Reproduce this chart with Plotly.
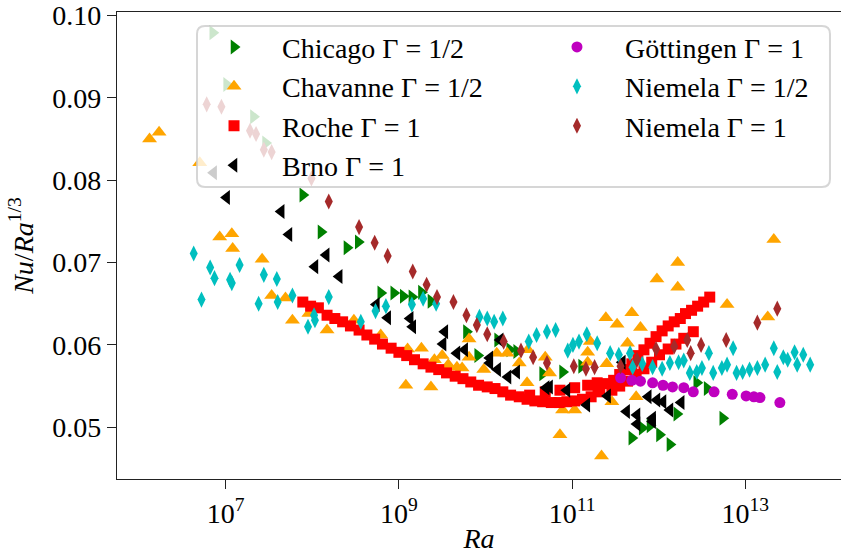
import numpy as np
import plotly.graph_objects as go

# ---- data: log10(Ra) and Nu/Ra^(1/3) ----
chicago_log_ra = [6.85, 7.01, 7.32, 7.46, 7.89, 8.10, 8.40, 8.53, 8.79, 8.94, 9.05, 9.15, 9.26, 9.37,
                  9.78, 9.91, 10.14, 10.28, 10.36, 10.66, 10.89, 11.11, 11.69, 11.81, 11.90, 12.01,
                  12.13, 12.21, 12.44, 12.56, 12.74]
chicago_nu = [0.0979, 0.0916, 0.0877, 0.0845, 0.0782, 0.0737, 0.0718, 0.0725, 0.0663, 0.0663, 0.0659,
              0.0658, 0.0664, 0.0653, 0.0616, 0.0587, 0.0606, 0.0594, 0.0592, 0.0565, 0.0567, 0.0574,
              0.0487, 0.0499, 0.0502, 0.0491, 0.0479, 0.0516, 0.0554, 0.0547, 0.0511]

chavanne_log_ra = [6.12, 6.23, 6.70, 6.93, 7.07, 7.08, 7.42, 7.53, 7.69, 7.77, 7.96, 8.17, 8.48, 8.79,
                   9.08, 9.10, 9.26, 9.37, 9.41, 9.50, 9.57, 9.67, 9.73, 9.81, 9.81, 9.98, 10.13, 10.25,
                   10.39, 10.48, 10.49, 10.69, 10.74, 10.86, 10.89, 11.03, 11.18, 11.18, 11.21, 11.34,
                   11.39, 11.40, 11.46, 11.52, 11.64, 11.69, 11.74, 11.79, 11.98, 12.22, 12.22, 12.79,
                   13.26, 13.33]
chavanne_nu = [0.0850, 0.0858, 0.0821, 0.0731, 0.0735, 0.0717, 0.0704, 0.0660, 0.0657, 0.0630, 0.0638,
               0.0618, 0.0630, 0.0612, 0.0551, 0.0595, 0.0596, 0.0549, 0.0582, 0.0587, 0.0576, 0.0573,
               0.0572, 0.0607, 0.0585, 0.0570, 0.0590, 0.0590, 0.0578, 0.0554, 0.0594, 0.0585, 0.0566,
               0.0491, 0.0521, 0.0521, 0.0591, 0.0579, 0.0604, 0.0465, 0.0633, 0.0577, 0.0531, 0.0625,
               0.0602, 0.0639, 0.0537, 0.0621, 0.0680, 0.0700, 0.0670, 0.0649, 0.0634, 0.0728]

roche_log_ra = [7.89, 7.98, 8.07, 8.17, 8.26, 8.35, 8.44, 8.54, 8.63, 8.72, 8.81, 8.91, 9.00, 9.09,
                9.18, 9.28, 9.37, 9.46, 9.55, 9.65, 9.74, 9.83, 9.92, 10.02, 10.11, 10.20, 10.29,
                10.39, 10.48, 10.57, 10.66, 10.76, 10.85, 10.94, 11.03, 11.12, 11.22, 11.30,
                10.51, 10.69, 10.86, 11.03, 11.18, 11.29,
                11.32, 11.40, 11.48, 11.55, 11.62, 11.69, 11.76, 11.83, 11.90, 11.97, 12.04, 12.11,
                12.18, 12.25, 12.31, 12.38, 12.45, 12.52, 12.59,
                11.46, 11.55, 11.64, 11.74, 11.83, 11.92, 12.01, 12.11, 12.20, 12.29, 12.40]
roche_nu = [0.0652, 0.0647, 0.0645, 0.0636, 0.0632, 0.0628, 0.0623, 0.0618, 0.0612, 0.0607, 0.0601,
            0.0596, 0.0591, 0.0587, 0.0582, 0.0577, 0.0573, 0.0570, 0.0566, 0.0562, 0.0559, 0.0555,
            0.0551, 0.0549, 0.0547, 0.0543, 0.0539, 0.0537, 0.0534, 0.0532, 0.0531, 0.0530, 0.0530,
            0.0531, 0.0532, 0.0534, 0.0537, 0.0543,
            0.0539, 0.0543, 0.0545, 0.0548, 0.0551, 0.0554,
            0.0547, 0.0553, 0.0557, 0.0564, 0.0570, 0.0577, 0.0587, 0.0594, 0.0602, 0.0610, 0.0617,
            0.0623, 0.0628, 0.0632, 0.0638, 0.0642, 0.0647, 0.0652, 0.0658,
            0.0545, 0.0550, 0.0556, 0.0564, 0.0571, 0.0579, 0.0588, 0.0595, 0.0601, 0.0608, 0.0616]

brno_log_ra = [6.86, 7.01, 7.64, 7.73, 8.16, 8.03, 8.31, 8.74, 8.87, 9.13, 9.16, 9.53, 9.51, 9.67,
               9.76, 10.05, 10.05, 10.14, 10.17, 10.26, 10.36, 10.70, 10.74, 10.94, 11.17, 11.41,
               11.58, 11.63, 11.75, 11.75, 11.88, 11.93, 11.98, 12.05, 12.13, 12.26, 11.93]
brno_nu = [0.0809, 0.0779, 0.0762, 0.0734, 0.0709, 0.0695, 0.0683, 0.0649, 0.0633, 0.0632, 0.0622,
           0.0616, 0.0601, 0.0590, 0.0594, 0.0584, 0.0578, 0.0570, 0.0606, 0.0561, 0.0567, 0.0548,
           0.0549, 0.0545, 0.0527, 0.0538, 0.0579, 0.0519, 0.0515, 0.0504, 0.0537, 0.0511, 0.0533,
           0.0531, 0.0521, 0.0530, 0.0507]

gottingen_log_ra = [11.56, 11.69, 11.79, 11.93, 12.05, 12.16, 12.29, 12.40, 12.64, 12.85, 13.01,
                    13.10, 13.17, 13.40]
gottingen_nu = [0.0560, 0.0557, 0.0556, 0.0554, 0.0551, 0.0549, 0.0548, 0.0543, 0.0543, 0.0540,
                0.0538, 0.0537, 0.0536, 0.0530]

niemela_half_log_ra = [6.63, 6.72, 6.82, 6.87, 7.05, 7.07, 7.16, 7.38, 7.44, 7.59, 7.60, 7.77, 7.95,
                       8.02, 8.03, 8.19, 8.56, 8.73, 8.85, 9.15, 9.28, 9.43, 9.93, 10.02, 10.10, 10.20,
                       10.50, 10.59, 10.71, 10.81, 10.95, 11.01, 11.08, 11.17, 11.29, 11.44, 11.54,
                       11.67, 11.70, 11.81, 11.93, 12.04, 12.13, 12.23, 12.29, 12.36, 12.44, 12.50,
                       12.58, 12.63, 12.73, 12.79, 12.86, 12.90, 12.97, 13.05, 13.14, 13.23, 13.33,
                       13.37, 13.44, 13.49, 13.57, 13.60, 13.67, 13.75]
niemela_half_nu = [0.0711, 0.0655, 0.0694, 0.0681, 0.0679, 0.0675, 0.0697, 0.0650, 0.0685, 0.0680,
                   0.0652, 0.0660, 0.0622, 0.0636, 0.0630, 0.0658, 0.0628, 0.0641, 0.0647, 0.0649,
                   0.0656, 0.0650, 0.0634, 0.0632, 0.0628, 0.0632, 0.0604, 0.0612, 0.0616, 0.0618,
                   0.0593, 0.0600, 0.0604, 0.0613, 0.0602, 0.0590, 0.0588, 0.0590, 0.0573, 0.0577,
                   0.0573, 0.0571, 0.0578, 0.0579, 0.0581, 0.0566, 0.0567, 0.0572, 0.0590, 0.0566,
                   0.0572, 0.0576, 0.0596, 0.0566, 0.0567, 0.0570, 0.0572, 0.0576, 0.0596, 0.0567,
                   0.0585, 0.0582, 0.0591, 0.0576, 0.0588, 0.0576]

niemela_one_log_ra = [6.78, 6.95, 7.28, 7.35, 7.44, 7.53, 7.99, 8.19, 8.54, 8.72, 8.87, 9.16, 9.32,
                      9.44, 9.63, 9.78, 9.90, 10.02, 10.21, 10.41, 10.55, 10.71, 11.02, 11.16, 11.26,
                      11.56, 11.75, 11.97, 12.18, 12.33, 12.37, 12.49, 12.78, 13.14, 13.37]
niemela_one_nu = [0.0892, 0.0889, 0.0860, 0.0856, 0.0837, 0.0834, 0.0802, 0.0774, 0.0743, 0.0724,
                  0.0708, 0.0689, 0.0673, 0.0658, 0.0652, 0.0636, 0.0624, 0.0613, 0.0604, 0.0593,
                  0.0585, 0.0578, 0.0574, 0.0571, 0.0573, 0.0574, 0.0582, 0.0595, 0.0598, 0.0606,
                  0.0590, 0.0600, 0.0606, 0.0627, 0.0644]

series_names = ["Chicago Γ = 1/2", "Chavanne Γ = 1/2", "Roche Γ = 1", "Brno Γ = 1",
                "Göttingen Γ = 1", "Niemela Γ = 1/2", "Niemela Γ = 1"]
x_tick_values = [1e7, 1e9, 1e11, 1e13]
x_tick_labels = ["10<sup>7</sup>", "10<sup>9</sup>", "10<sup>11</sup>", "10<sup>13</sup>"]
y_tick_values = [0.05, 0.06, 0.07, 0.08, 0.09, 0.10]
y_tick_labels = ["0.05", "0.06", "0.07", "0.08", "0.09", "0.10"]

FONT = "Liberation Serif, DejaVu Serif, serif"

series = [
    (series_names[0], chicago_log_ra, chicago_nu, "triangle-right", "#008000", 13, "legend"),
    (series_names[1], chavanne_log_ra, chavanne_nu, "triangle-up", "#FFA500", 13, "legend"),
    (series_names[2], roche_log_ra, roche_nu, "square", "#FF0000", 11, "legend"),
    (series_names[3], brno_log_ra, brno_nu, "triangle-left", "#000000", 13, "legend"),
    (series_names[4], gottingen_log_ra, gottingen_nu, "circle", "#BF00BF", 11, "legend2"),
    (series_names[5], niemela_half_log_ra, niemela_half_nu, "diamond-tall", "#00BFBF", 11.5, "legend2"),
    (series_names[6], niemela_one_log_ra, niemela_one_nu, "diamond-tall", "#A52A2A", 11.5, "legend2"),
]

fig = go.Figure()
for name, lx, yv, sym, col, size, leg in series:
    fig.add_trace(go.Scatter(
        x=np.power(10.0, np.array(lx)), y=yv, mode="markers", name="\u2003" + name,
        legend=leg,
        marker=dict(symbol=sym, color=col, size=size, line=dict(width=0)),
    ))

# legend frame (semi-transparent, rounded)
x0, x1, y0, y1 = 0.1105, 0.9848, 0.6253, 0.970
rx, ry = 0.011, 0.017
path = (f"M {x0+rx},{y0} L {x1-rx},{y0} Q {x1},{y0} {x1},{y0+ry} L {x1},{y1-ry} "
        f"Q {x1},{y1} {x1-rx},{y1} L {x0+rx},{y1} Q {x0},{y1} {x0},{y1-ry} "
        f"L {x0},{y0+ry} Q {x0},{y0} {x0+rx},{y0} Z")
fig.add_shape(type="path", path=path, xref="paper", yref="paper", layer="above",
              fillcolor="rgba(255,255,255,0.8)", line=dict(color="rgba(204,204,204,0.8)", width=2))

axis_common = dict(showline=True, linecolor="#222", linewidth=1.3, ticks="outside", ticklen=9,
                   tickwidth=1.3, tickcolor="#222", showgrid=False, zeroline=False,
                   tickfont=dict(family=FONT, size=28, color="black"))

fig.update_layout(
    width=841, height=554,
    margin=dict(l=117, r=0, t=12, b=75, pad=0),
    paper_bgcolor="white", plot_bgcolor="white",
    font=dict(family=FONT, size=28, color="black"),
    xaxis=dict(type="log", range=[5.744, 14.106], tickvals=x_tick_values, ticktext=x_tick_labels,
               mirror=True, title=dict(text="<i>Ra</i>", font=dict(family=FONT, size=28), standoff=4),
               **axis_common),
    yaxis=dict(range=[0.04372, 0.10041], tickvals=y_tick_values, ticktext=y_tick_labels,
               mirror=False, title=dict(text="<i>Nu</i>/<i>Ra</i><sup>1/3</sup>",
                                        font=dict(family=FONT, size=28), standoff=10),
               **axis_common),
    legend=dict(x=0.134, y=0.978, xanchor="left", yanchor="top", bgcolor="rgba(0,0,0,0)",
                borderwidth=0, font=dict(family=FONT, size=28), tracegroupgap=0),
    legend2=dict(x=0.6077, y=0.978, xanchor="left", yanchor="top", bgcolor="rgba(0,0,0,0)",
                 borderwidth=0, font=dict(family=FONT, size=28), tracegroupgap=0),
    showlegend=True,
)

fig.write_html("out.html")
